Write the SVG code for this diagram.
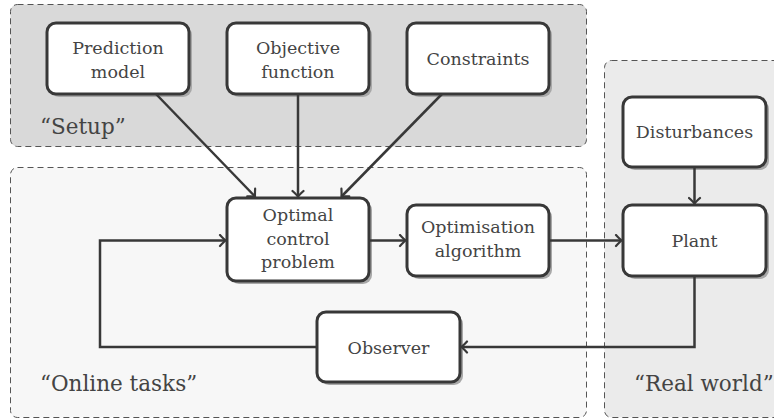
<svg xmlns="http://www.w3.org/2000/svg" width="774" height="420" viewBox="0 0 774 420">
<defs>
<style>
.region{stroke:#555;stroke-width:1;stroke-dasharray:6 4}
.node{fill:#fff;stroke:#383838;stroke-width:3}
.shadow{fill:#a8a8a8}
.t{font-family:"DejaVu Serif","Liberation Serif",serif;font-size:17.5px;fill:#444;text-anchor:middle}
.lbl{font-family:"DejaVu Serif","Liberation Serif",serif;font-size:21.5px;fill:#444}
.edge{fill:none;stroke:#383838;stroke-width:2.5;marker-end:url(#arr)}
</style>
<marker id="arr" viewBox="-8 -7 10 14" refX="0" refY="0" markerWidth="10" markerHeight="14" markerUnits="userSpaceOnUse" orient="auto">
<path d="M-5.5,-5.5 Q-1.5,-1.2 0,0 Q-1.5,1.2 -5.5,5.5" fill="none" stroke="#383838" stroke-width="2.2" stroke-linecap="round"/>
</marker>
</defs>
<rect width="774" height="420" fill="#fff"/>
<g id="region-setup">
<rect class="region" x="10.5" y="4.5" width="576" height="142" rx="7" fill="#d9d9d9"/>
<text class="lbl" x="40" y="134">“Setup”</text>
</g>
<g id="region-online">
<rect class="region" x="10.5" y="167.5" width="576" height="250" rx="7" fill="#f7f7f7"/>
<text class="lbl" x="40" y="391">“Online tasks”</text>
</g>
<g id="region-real">
<rect class="region" x="604.5" y="60.5" width="190" height="357" rx="7" fill="#ebebeb"/>
<text class="lbl" x="634" y="391">“Real world”</text>
</g>
<g id="prediction-model">
<rect class="shadow" x="50" y="26" width="142" height="71" rx="9"/>
<rect class="node" x="47" y="23" width="142" height="71" rx="9"/>
<text class="t" x="118" y="54">Prediction</text>
<text class="t" x="118" y="78">model</text>
</g>
<g id="objective-function">
<rect class="shadow" x="230" y="26" width="142" height="71" rx="9"/>
<rect class="node" x="227" y="23" width="142" height="71" rx="9"/>
<text class="t" x="298" y="54">Objective</text>
<text class="t" x="298" y="78">function</text>
</g>
<g id="constraints">
<rect class="shadow" x="410" y="26" width="142" height="71" rx="9"/>
<rect class="node" x="407" y="23" width="142" height="71" rx="9"/>
<text class="t" x="478" y="65">Constraints</text>
</g>
<g id="disturbances">
<rect class="shadow" x="626" y="100" width="143" height="70" rx="9"/>
<rect class="node" x="623" y="97" width="143" height="70" rx="9"/>
<text class="t" x="694.5" y="138">Disturbances</text>
</g>
<g id="optimal-control-problem">
<rect class="shadow" x="230" y="201" width="142" height="83" rx="9"/>
<rect class="node" x="227" y="198" width="142" height="83" rx="9"/>
<text class="t" x="298" y="221">Optimal</text>
<text class="t" x="298" y="245">control</text>
<text class="t" x="298" y="268">problem</text>
</g>
<g id="optimisation-algorithm">
<rect class="shadow" x="410" y="208" width="142" height="71" rx="9"/>
<rect class="node" x="407" y="205" width="142" height="71" rx="9"/>
<text class="t" x="478" y="233">Optimisation</text>
<text class="t" x="478" y="257">algorithm</text>
</g>
<g id="plant">
<rect class="shadow" x="626" y="208" width="143" height="71" rx="9"/>
<rect class="node" x="623" y="205" width="143" height="71" rx="9"/>
<text class="t" x="694.5" y="247">Plant</text>
</g>
<g id="observer">
<rect class="shadow" x="320" y="315" width="143" height="70" rx="9"/>
<rect class="node" x="317" y="312" width="143" height="70" rx="9"/>
<text class="t" x="388.5" y="354">Observer</text>
</g>
<g id="connectors">
<path class="edge" d="M156,94 L255,196.5"/>
<path class="edge" d="M298,94 V196.5"/>
<path class="edge" d="M442,94 L341.5,196.5"/>
<path class="edge" d="M694.5,167 V203.5"/>
<path class="edge" d="M369,240.5 H405.5"/>
<path class="edge" d="M549,240.5 H621.5"/>
<path class="edge" d="M694.5,276 V347 H461.5"/>
<path class="edge" d="M317,347 H100 V240.5 H225.5"/>
</g>
</svg>
